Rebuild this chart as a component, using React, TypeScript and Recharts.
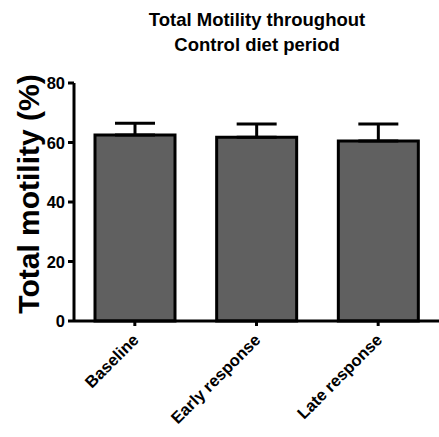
import React from 'react';
import { BarChart, Bar, XAxis, YAxis, ErrorBar } from 'recharts';

const categories = ['Baseline', 'Early response', 'Late response'];
const motility = [62.5, 61.8, 60.5];
const sem = [4.0, 4.4, 5.7];
const yTicks = [0, 20, 40, 60, 80];

const data = categories.map((c, i) => ({ name: c, value: motility[i], err: [0, sem[i]] }));

const FONT = 'Arial, "Liberation Sans", sans-serif';

const XTick = (props: any) => {
  const { x, y, payload } = props;
  const ax = x + 5;
  const ay = y + 13;
  return (
    <text
      x={ax}
      y={ay}
      textAnchor="end"
      transform={`rotate(-45, ${ax}, ${ay})`}
      fontFamily={FONT}
      fontWeight="bold"
      fontSize={16.5}
      fill="#000"
    >
      {payload.value}
    </text>
  );
};

const YTick = (props: any) => {
  const { x, y, payload } = props;
  return (
    <text x={x - 1} y={y + 6} textAnchor="end" fontFamily={FONT} fontWeight="bold" fontSize={16.5} fill="#000">
      {payload.value}
    </text>
  );
};

export default function App() {
  return (
    <div style={{ position: 'absolute', left: 0, top: 0, width: 439, height: 437, background: '#fff' }}>
      <div
        style={{
          position: 'absolute',
          left: 74,
          width: 366,
          top: 7,
          textAlign: 'center',
          fontFamily: FONT,
          fontWeight: 'bold',
          fontSize: 18.5,
          lineHeight: '25px',
          color: '#000',
        }}
      >
        Total Motility throughout
        <br />
        Control diet period
      </div>
      <BarChart width={439} height={437} data={data} margin={{ top: 83, right: 0, left: 0, bottom: 0 }} barCategoryGap={21}>
        <XAxis
          dataKey="name"
          height={116}
          axisLine={{ stroke: '#000', strokeWidth: 3 }}
          tickLine={{ stroke: '#000', strokeWidth: 3 }}
          tickSize={5}
          tick={<XTick />}
          interval={0}
        />
        <YAxis
          width={74}
          domain={[0, 80]}
          ticks={yTicks}
          axisLine={{ stroke: '#000', strokeWidth: 3 }}
          tickLine={{ stroke: '#000', strokeWidth: 3 }}
          tickSize={6}
          tick={<YTick />}
          label={{
            content: () => (
              <text
                x={39}
                y={194}
                textAnchor="middle"
                transform="rotate(-90, 39, 194)"
                fontFamily={FONT}
                fontWeight="bold"
                fontSize={30}
                fill="#000"
              >
                Total motility (%)
              </text>
            ),
          }}
        />
        <Bar dataKey="value" fill="#606060" stroke="#000" strokeWidth={3} isAnimationActive={false}>
          <ErrorBar dataKey="err" width={20} stroke="#000" strokeWidth={3} direction="y" />
        </Bar>
      </BarChart>
    </div>
  );
}
